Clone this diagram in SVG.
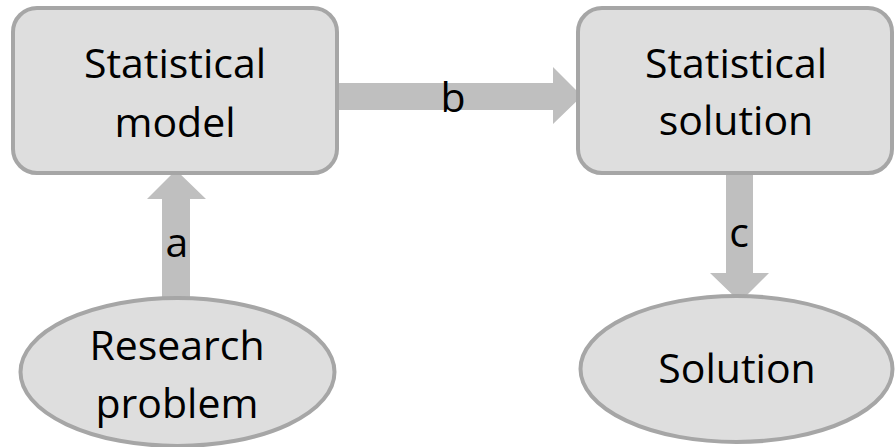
<svg xmlns="http://www.w3.org/2000/svg" width="895" height="447" viewBox="0 0 895 447">
<style>
.node{fill:#dedede;stroke:#a6a6a6;stroke-width:4}
.arrow{fill:#bfbfbf;stroke:none}
text{font-family:"Open Sans","Liberation Sans",sans-serif;font-size:41px;fill:#000;text-anchor:middle}
</style>
<rect width="895" height="447" fill="#ffffff"/>
<g id="connectors">
<g id="edge-a">
<polygon class="arrow" points="162,299 190,299 190,199 206,199 176,170 147,199 162,199"/>
<text x="177" y="257">a</text>
</g>
<g id="edge-b">
<polygon class="arrow" points="337,83 553,83 553,67 582,96 553,124 553,110 337,110"/>
<text x="453" y="112">b</text>
</g>
<g id="edge-c">
<polygon class="arrow" points="726,173 753,173 753,273 769,273 740,302 710,273 726,273"/>
<text x="739" y="247">c</text>
</g>
</g>
<g id="node-model">
<rect class="node" x="13" y="8" width="324" height="165" rx="24"/>
<text x="175" y="78">Statistical</text>
<text x="175" y="137">model</text>
</g>
<g id="node-stat-solution">
<rect class="node" x="578" y="8" width="314" height="165" rx="24"/>
<text x="736" y="78">Statistical</text>
<text x="736" y="135">solution</text>
</g>
<g id="node-research">
<ellipse class="node" cx="177.5" cy="372" rx="157" ry="74"/>
<text x="177" y="360">Research</text>
<text x="177" y="418">problem</text>
</g>
<g id="node-solution">
<ellipse class="node" cx="736.5" cy="369" rx="156" ry="73"/>
<text x="737" y="383">Solution</text>
</g>
</svg>
